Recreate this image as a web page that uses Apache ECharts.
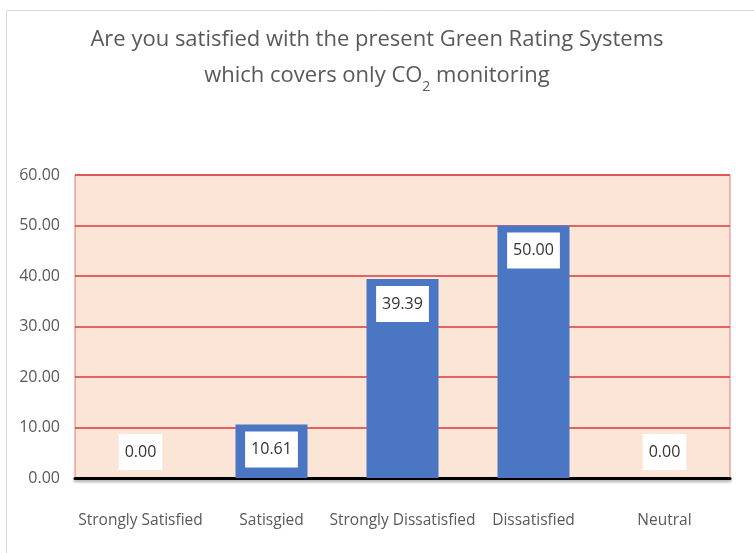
<!DOCTYPE html>
<html lang="en">
<head>
    <meta charset="UTF-8">
    <script type="text/javascript" src="https://cdn.jsdelivr.net/npm/echarts@6/dist/echarts.min.js"></script>
    <title>Green Rating Systems</title>
    <style type="text/css">
        html, body { margin: 0; padding: 0; background: #fff; }
        #chart { width: 754px; height: 553px; }
    </style>
</head>
<body>
    <div id="chart"></div>
    <script type="text/javascript">
        let categories = ["Strongly Satisfied", "Satisgied", "Strongly Dissatisfied", "Dissatisfied", "Neutral"]
        let values = [0.00, 10.61, 39.39, 50.00, 0.00]
        let yTicks = [0, 10, 20, 30, 40, 50, 60]

        let font = "Open Sans"
        let textColor = "#595959"

        // zero bars get their label above the baseline
        let barData = values.map(function (v) {
            if (v === 0) {
                return { value: v, label: { position: 'top', distance: 8 } }
            }
            return v
        })

        var myChart = echarts.init(document.getElementById('chart'))
        var option = {
            backgroundColor: '#fff',
            animation: false,
            title: {
                text: '{t|Are you satisfied with the present Green Rating Systems}\n{t|which covers only CO}{s|2}{t| monitoring}',
                left: 'center',
                top: 17,
                textStyle: {
                    rich: {
                        t: { fontFamily: font, fontSize: 22, fontWeight: 'normal', color: textColor, lineHeight: 36 },
                        s: { fontFamily: font, fontSize: 14, fontWeight: 'normal', color: textColor, lineHeight: 36, verticalAlign: 'bottom', padding: [12, 0, 0, 0] }
                    }
                }
            },
            graphic: [{
                type: 'rect',
                shape: { x: 6.5, y: 10.5, width: 800, height: 600 },
                style: { fill: 'none', stroke: '#d9d9d9', lineWidth: 1 },
                silent: true
            }],
            grid: {
                left: 75,
                right: 24,
                top: 175,
                bottom: 75,
                show: true,
                backgroundColor: '#fbe5d6',
                borderColor: '#e77b7b',
                borderWidth: 1
            },
            xAxis: {
                type: 'category',
                data: categories,
                axisTick: { show: false },
                axisLine: {
                    lineStyle: {
                        color: '#000',
                        width: 3,
                        shadowColor: 'rgba(0,0,0,0.35)',
                        shadowBlur: 3,
                        shadowOffsetY: 2
                    }
                },
                axisLabel: {
                    margin: 35,
                    fontFamily: font,
                    fontSize: 15.5,
                    color: textColor,
                    interval: 0
                }
            },
            yAxis: {
                type: 'value',
                min: yTicks[0],
                max: yTicks[yTicks.length - 1],
                interval: 10,
                axisLine: { show: false },
                axisTick: { show: false },
                axisLabel: {
                    margin: 15,
                    fontFamily: font,
                    fontSize: 16,
                    color: textColor,
                    formatter: function (v) { return v.toFixed(2) }
                },
                splitLine: { lineStyle: { color: '#d9393b', width: 1.5 } }
            },
            series: [{
                type: 'bar',
                data: barData,
                barWidth: 72,
                itemStyle: { color: '#4a76c4' },
                label: {
                    show: true,
                    position: 'insideTop',
                    distance: 7,
                    formatter: function (p) { return p.value.toFixed(2) },
                    fontFamily: font,
                    fontSize: 16,
                    lineHeight: 18,
                    color: '#333',
                    backgroundColor: '#fff',
                    padding: [9, 6]
                }
            }]
        }
        option && myChart.setOption(option)
    </script>
</body>
</html>
